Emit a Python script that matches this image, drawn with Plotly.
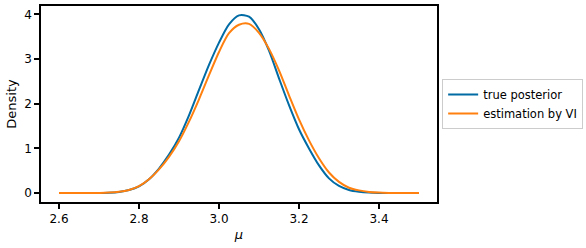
import plotly.graph_objects as go

mu = [2.600, 2.625, 2.650, 2.675, 2.700, 2.725, 2.750, 2.775, 2.800, 2.825,
      2.850, 2.875, 2.900, 2.925, 2.950, 2.975, 3.000, 3.025, 3.050, 3.075,
      3.100, 3.125, 3.150, 3.175, 3.200, 3.225, 3.250, 3.275, 3.300, 3.325,
      3.350, 3.375, 3.400, 3.425, 3.450, 3.475, 3.500]

true_posterior = [0.000, 0.000, 0.000, 0.001, 0.003, 0.008, 0.025, 0.068, 0.150, 0.31,
                  0.55, 0.86, 1.24, 1.74, 2.31, 2.87, 3.37, 3.78, 3.98, 3.95,
                  3.67, 3.19, 2.57, 1.97, 1.43, 1.00, 0.62, 0.33, 0.16, 0.07,
                  0.03, 0.011, 0.004, 0.001, 0.000, 0.000, 0.000]

vi_estimate = [0.000, 0.000, 0.000, 0.001, 0.004, 0.010, 0.028, 0.070, 0.155, 0.31,
               0.53, 0.81, 1.16, 1.60, 2.10, 2.64, 3.16, 3.58, 3.77, 3.79,
               3.59, 3.23, 2.75, 2.19, 1.65, 1.18, 0.78, 0.46, 0.25, 0.12,
               0.06, 0.026, 0.010, 0.004, 0.001, 0.000, 0.000]

x_ticks = [2.6, 2.8, 3.0, 3.2, 3.4]
y_ticks = [0, 1, 2, 3, 4]

FONT = "DejaVu Sans"

fig = go.Figure()
fig.add_trace(go.Scatter(x=mu, y=true_posterior, mode="lines", name="true posterior",
                         line=dict(color="#006BA4", width=2, shape="spline", smoothing=0.8)))
fig.add_trace(go.Scatter(x=mu, y=vi_estimate, mode="lines", name="estimation by VI",
                         line=dict(color="#FF800E", width=2, shape="spline", smoothing=0.8)))

axis_common = dict(showline=True, linecolor="black", linewidth=1.5, mirror=True,
                   ticks="outside", ticklen=5, tickwidth=1.5, tickcolor="black",
                   showgrid=False, zeroline=False,
                   tickfont=dict(family=FONT, size=12, color="black"))

fig.update_xaxes(range=[2.555, 3.545], tickvals=x_ticks,
                 ticktext=[f"{v:.1f}" for v in x_ticks],
                 title=dict(text="<i>μ</i>", font=dict(family=FONT, size=13, color="black"),
                            standoff=5),
                 **axis_common)
fig.update_yaxes(range=[-0.2, 4.19], tickvals=y_ticks,
                 title=dict(text="Density", font=dict(family=FONT, size=13, color="black"),
                            standoff=5),
                 **axis_common)

fig.update_layout(
    width=586, height=248,
    margin=dict(l=41, r=149, t=6, b=46, autoexpand=False),
    paper_bgcolor="white", plot_bgcolor="white",
    font=dict(family=FONT, size=12, color="black"),
    legend=dict(x=1.013, y=0.5, xanchor="left", yanchor="middle",
                bordercolor="#cccccc", borderwidth=1, bgcolor="white",
                font=dict(family=FONT, size=11.5, color="black"),
                itemwidth=30, tracegroupgap=0),
)

fig.write_html("out.html")
